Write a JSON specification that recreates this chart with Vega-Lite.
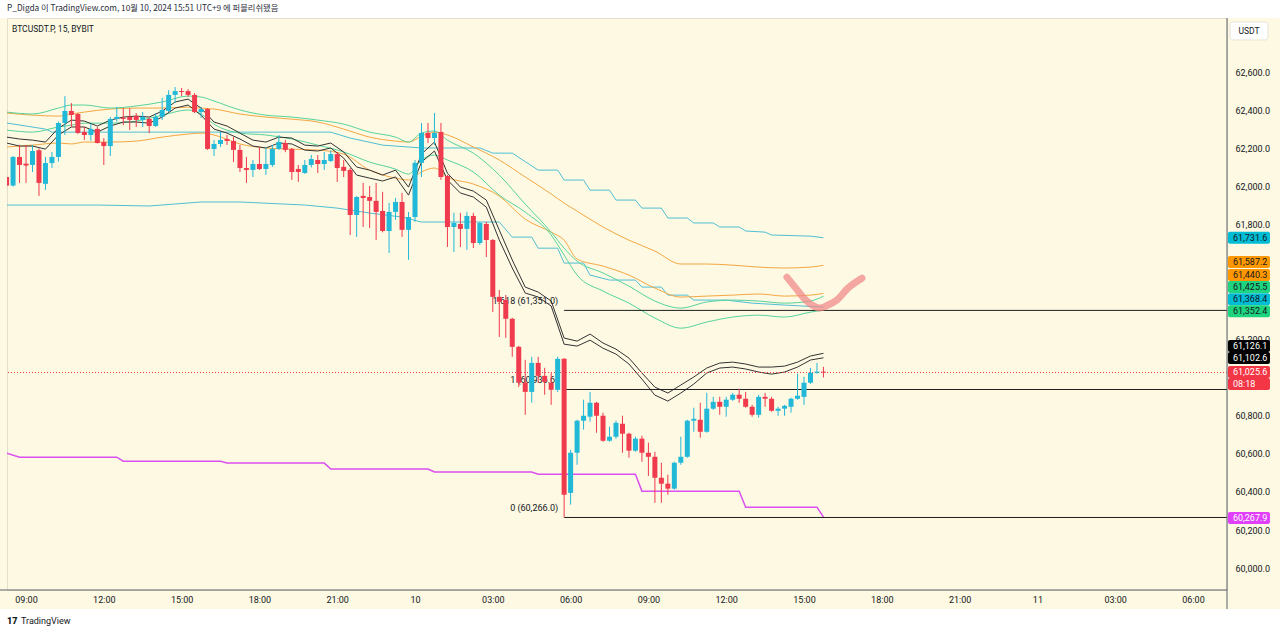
{
  "$schema": "https://vega.github.io/schema/vega-lite/v6.json",
  "width": 1220,
  "height": 572,
  "autosize": {"type": "none"},
  "padding": {"left": 7, "top": 18, "right": 53, "bottom": 44},
  "background": "#fdf9e3",
  "config": {
    "view": {"stroke": "#e4e0cc", "strokeWidth": 1},
    "font": "Roboto",
    "axis": {"title": null, "grid": false, "ticks": false, "domain": false, "labelOverlap": false, "labelFlush": false, "labelFontSize": 9, "labelColor": "#131722"}
  },
  "datasets": {
    "candles": [
      {"t":"2024-10-09T08:15","o":62050,"h":62060,"l":61990,"c":62005},
      {"t":"2024-10-09T08:30","o":62005,"h":62160,"l":62000,"c":62155},
      {"t":"2024-10-09T08:45","o":62155,"h":62218,"l":62019,"c":62113},
      {"t":"2024-10-09T09:00","o":62120,"h":62218,"l":62019,"c":62110},
      {"t":"2024-10-09T09:15","o":62113,"h":62218,"l":62076,"c":62186},
      {"t":"2024-10-09T09:30","o":62190,"h":62200,"l":61951,"c":62019},
      {"t":"2024-10-09T09:45","o":62014,"h":62155,"l":61982,"c":62123},
      {"t":"2024-10-09T10:00","o":62123,"h":62181,"l":62097,"c":62155},
      {"t":"2024-10-09T10:15","o":62155,"h":62340,"l":62130,"c":62333},
      {"t":"2024-10-09T10:30","o":62333,"h":62474,"l":62270,"c":62396},
      {"t":"2024-10-09T10:45","o":62396,"h":62437,"l":62312,"c":62375},
      {"t":"2024-10-09T11:00","o":62380,"h":62385,"l":62275,"c":62281},
      {"t":"2024-10-09T11:15","o":62286,"h":62312,"l":62244,"c":62270},
      {"t":"2024-10-09T11:30","o":62270,"h":62330,"l":62240,"c":62302},
      {"t":"2024-10-09T11:45","o":62302,"h":62312,"l":62225,"c":62228},
      {"t":"2024-10-09T12:00","o":62233,"h":62254,"l":62113,"c":62212},
      {"t":"2024-10-09T12:15","o":62212,"h":62365,"l":62160,"c":62354},
      {"t":"2024-10-09T12:30","o":62354,"h":62417,"l":62340,"c":62365},
      {"t":"2024-10-09T12:45","o":62360,"h":62411,"l":62322,"c":62354},
      {"t":"2024-10-09T13:00","o":62365,"h":62411,"l":62296,"c":62349},
      {"t":"2024-10-09T13:15","o":62370,"h":62385,"l":62312,"c":62349},
      {"t":"2024-10-09T13:30","o":62349,"h":62390,"l":62312,"c":62365},
      {"t":"2024-10-09T13:45","o":62354,"h":62365,"l":62280,"c":62317},
      {"t":"2024-10-09T14:00","o":62317,"h":62385,"l":62312,"c":62365},
      {"t":"2024-10-09T14:15","o":62365,"h":62464,"l":62349,"c":62401},
      {"t":"2024-10-09T14:30","o":62396,"h":62505,"l":62390,"c":62480},
      {"t":"2024-10-09T14:45","o":62480,"h":62521,"l":62437,"c":62500},
      {"t":"2024-10-09T15:00","o":62500,"h":62516,"l":62474,"c":62495},
      {"t":"2024-10-09T15:15","o":62500,"h":62510,"l":62470,"c":62480},
      {"t":"2024-10-09T15:30","o":62480,"h":62490,"l":62385,"c":62390},
      {"t":"2024-10-09T15:45","o":62390,"h":62417,"l":62360,"c":62406},
      {"t":"2024-10-09T16:00","o":62406,"h":62411,"l":62192,"c":62197},
      {"t":"2024-10-09T16:15","o":62197,"h":62244,"l":62160,"c":62223},
      {"t":"2024-10-09T16:30","o":62223,"h":62286,"l":62207,"c":62244},
      {"t":"2024-10-09T16:45","o":62249,"h":62270,"l":62218,"c":62239},
      {"t":"2024-10-09T17:00","o":62239,"h":62260,"l":62128,"c":62192},
      {"t":"2024-10-09T17:15","o":62192,"h":62218,"l":62076,"c":62097},
      {"t":"2024-10-09T17:30","o":62097,"h":62155,"l":62019,"c":62087},
      {"t":"2024-10-09T17:45","o":62087,"h":62139,"l":62050,"c":62118},
      {"t":"2024-10-09T18:00","o":62118,"h":62207,"l":62087,"c":62092},
      {"t":"2024-10-09T18:15","o":62092,"h":62207,"l":62061,"c":62118},
      {"t":"2024-10-09T18:30","o":62113,"h":62218,"l":62103,"c":62197},
      {"t":"2024-10-09T18:45","o":62197,"h":62270,"l":62192,"c":62234},
      {"t":"2024-10-09T19:00","o":62228,"h":62244,"l":62180,"c":62192},
      {"t":"2024-10-09T19:15","o":62197,"h":62202,"l":62035,"c":62076},
      {"t":"2024-10-09T19:30","o":62092,"h":62113,"l":62024,"c":62076},
      {"t":"2024-10-09T19:45","o":62071,"h":62139,"l":62066,"c":62113},
      {"t":"2024-10-09T20:00","o":62113,"h":62165,"l":62100,"c":62144},
      {"t":"2024-10-09T20:15","o":62139,"h":62165,"l":62071,"c":62118},
      {"t":"2024-10-09T20:30","o":62118,"h":62181,"l":62087,"c":62139},
      {"t":"2024-10-09T20:45","o":62134,"h":62190,"l":62128,"c":62170},
      {"t":"2024-10-09T21:00","o":62170,"h":62181,"l":62024,"c":62097},
      {"t":"2024-10-09T21:15","o":62103,"h":62139,"l":62050,"c":62082},
      {"t":"2024-10-09T21:30","o":62087,"h":62097,"l":61746,"c":61851},
      {"t":"2024-10-09T21:45","o":61851,"h":61950,"l":61736,"c":61945},
      {"t":"2024-10-09T22:00","o":61951,"h":62019,"l":61788,"c":61940},
      {"t":"2024-10-09T22:15","o":61945,"h":62003,"l":61783,"c":61925},
      {"t":"2024-10-09T22:30","o":61925,"h":62019,"l":61720,"c":61867},
      {"t":"2024-10-09T22:45","o":61872,"h":61972,"l":61760,"c":61767},
      {"t":"2024-10-09T23:00","o":61767,"h":61914,"l":61652,"c":61867},
      {"t":"2024-10-09T23:15","o":61867,"h":61940,"l":61825,"c":61919},
      {"t":"2024-10-09T23:30","o":61919,"h":61966,"l":61736,"c":61773},
      {"t":"2024-10-09T23:45","o":61773,"h":61867,"l":61616,"c":61840},
      {"t":"2024-10-10T00:00","o":61840,"h":62139,"l":61815,"c":62124},
      {"t":"2024-10-10T00:15","o":62124,"h":62333,"l":62050,"c":62281},
      {"t":"2024-10-10T00:30","o":62281,"h":62333,"l":62228,"c":62254},
      {"t":"2024-10-10T00:45","o":62254,"h":62385,"l":62218,"c":62281},
      {"t":"2024-10-10T01:00","o":62286,"h":62333,"l":62035,"c":62050},
      {"t":"2024-10-10T01:15","o":62055,"h":62061,"l":61683,"c":61788},
      {"t":"2024-10-10T01:30","o":61788,"h":61862,"l":61657,"c":61809},
      {"t":"2024-10-10T01:45","o":61804,"h":61862,"l":61683,"c":61778},
      {"t":"2024-10-10T02:00","o":61778,"h":61867,"l":61668,"c":61846},
      {"t":"2024-10-10T02:15","o":61846,"h":61862,"l":61678,"c":61704},
      {"t":"2024-10-10T02:30","o":61704,"h":61815,"l":61694,"c":61809},
      {"t":"2024-10-10T02:45","o":61804,"h":61815,"l":61631,"c":61720},
      {"t":"2024-10-10T03:00","o":61720,"h":61725,"l":61343,"c":61422},
      {"t":"2024-10-10T03:15","o":61422,"h":61458,"l":61212,"c":61396},
      {"t":"2024-10-10T03:30","o":61406,"h":61432,"l":61207,"c":61307},
      {"t":"2024-10-10T03:45","o":61307,"h":61312,"l":61108,"c":61160},
      {"t":"2024-10-10T04:00","o":61160,"h":61165,"l":60950,"c":60972},
      {"t":"2024-10-10T04:15","o":60972,"h":61092,"l":60804,"c":60924},
      {"t":"2024-10-10T04:30","o":60924,"h":61108,"l":60867,"c":61076},
      {"t":"2024-10-10T04:45","o":61076,"h":61108,"l":60972,"c":61008},
      {"t":"2024-10-10T05:00","o":61008,"h":61050,"l":60909,"c":60977},
      {"t":"2024-10-10T05:15","o":60972,"h":61024,"l":60856,"c":60935},
      {"t":"2024-10-10T05:30","o":60935,"h":61108,"l":60924,"c":61097},
      {"t":"2024-10-10T05:45","o":61097,"h":61100,"l":60266,"c":60385},
      {"t":"2024-10-10T06:00","o":60395,"h":60620,"l":60333,"c":60605},
      {"t":"2024-10-10T06:15","o":60605,"h":60778,"l":60542,"c":60773},
      {"t":"2024-10-10T06:30","o":60773,"h":60883,"l":60726,"c":60799},
      {"t":"2024-10-10T06:45","o":60794,"h":60924,"l":60768,"c":60867},
      {"t":"2024-10-10T07:00","o":60867,"h":60872,"l":60710,"c":60799},
      {"t":"2024-10-10T07:15","o":60799,"h":60815,"l":60663,"c":60668},
      {"t":"2024-10-10T07:30","o":60668,"h":60742,"l":60663,"c":60689},
      {"t":"2024-10-10T07:45","o":60689,"h":60773,"l":60679,"c":60762},
      {"t":"2024-10-10T08:00","o":60757,"h":60799,"l":60605,"c":60705},
      {"t":"2024-10-10T08:15","o":60705,"h":60710,"l":60579,"c":60616},
      {"t":"2024-10-10T08:30","o":60616,"h":60689,"l":60610,"c":60679},
      {"t":"2024-10-10T08:45","o":60679,"h":60694,"l":60558,"c":60605},
      {"t":"2024-10-10T09:00","o":60605,"h":60658,"l":60484,"c":60584},
      {"t":"2024-10-10T09:15","o":60584,"h":60610,"l":60343,"c":60474},
      {"t":"2024-10-10T09:30","o":60474,"h":60553,"l":60343,"c":60443},
      {"t":"2024-10-10T09:45","o":60443,"h":60490,"l":60385,"c":60417},
      {"t":"2024-10-10T10:00","o":60417,"h":60558,"l":60411,"c":60553},
      {"t":"2024-10-10T10:15","o":60553,"h":60689,"l":60542,"c":60584},
      {"t":"2024-10-10T10:30","o":60584,"h":60778,"l":60579,"c":60773},
      {"t":"2024-10-10T10:45","o":60773,"h":60841,"l":60715,"c":60783},
      {"t":"2024-10-10T11:00","o":60778,"h":60867,"l":60684,"c":60715},
      {"t":"2024-10-10T11:15","o":60715,"h":60919,"l":60710,"c":60836},
      {"t":"2024-10-10T11:30","o":60836,"h":60898,"l":60830,"c":60872},
      {"t":"2024-10-10T11:45","o":60872,"h":60898,"l":60804,"c":60846},
      {"t":"2024-10-10T12:00","o":60846,"h":60898,"l":60794,"c":60883},
      {"t":"2024-10-10T12:15","o":60883,"h":60919,"l":60877,"c":60909},
      {"t":"2024-10-10T12:30","o":60909,"h":60940,"l":60867,"c":60888},
      {"t":"2024-10-10T12:45","o":60888,"h":60924,"l":60841,"c":60846},
      {"t":"2024-10-10T13:00","o":60846,"h":60856,"l":60794,"c":60804},
      {"t":"2024-10-10T13:15","o":60804,"h":60909,"l":60789,"c":60898},
      {"t":"2024-10-10T13:30","o":60898,"h":60919,"l":60846,"c":60888},
      {"t":"2024-10-10T13:45","o":60888,"h":60898,"l":60820,"c":60825},
      {"t":"2024-10-10T14:00","o":60825,"h":60846,"l":60799,"c":60836},
      {"t":"2024-10-10T14:15","o":60836,"h":60856,"l":60799,"c":60851},
      {"t":"2024-10-10T14:30","o":60846,"h":60893,"l":60815,"c":60888},
      {"t":"2024-10-10T14:45","o":60888,"h":61019,"l":60883,"c":60904},
      {"t":"2024-10-10T15:00","o":60898,"h":61003,"l":60856,"c":60972},
      {"t":"2024-10-10T15:15","o":60972,"h":61050,"l":60966,"c":61024},
      {"t":"2024-10-10T15:30","o":61024,"h":61076,"l":61019,"c":61030},
      {"t":"2024-10-10T15:45","o":61030,"h":61055,"l":61000,"c":61025.6}
    ],
    "black": [
      {"t":"2024-10-09T08:15","b1":62259,"b2":62228},
      {"t":"2024-10-09T08:45","b1":62249,"b2":62212},
      {"t":"2024-10-09T09:15","b1":62243,"b2":62212},
      {"t":"2024-10-09T09:45","b1":62233,"b2":62196},
      {"t":"2024-10-09T10:15","b1":62306,"b2":62270},
      {"t":"2024-10-09T10:45","b1":62348,"b2":62312},
      {"t":"2024-10-09T11:15","b1":62343,"b2":62312},
      {"t":"2024-10-09T11:45","b1":62317,"b2":62285},
      {"t":"2024-10-09T12:15","b1":62348,"b2":62317},
      {"t":"2024-10-09T12:45","b1":62364,"b2":62338},
      {"t":"2024-10-09T13:15","b1":62369,"b2":62338},
      {"t":"2024-10-09T13:45","b1":62364,"b2":62332},
      {"t":"2024-10-09T14:15","b1":62395,"b2":62364},
      {"t":"2024-10-09T14:45","b1":62443,"b2":62411},
      {"t":"2024-10-09T15:15","b1":62458,"b2":62427},
      {"t":"2024-10-09T15:45","b1":62411,"b2":62374},
      {"t":"2024-10-09T16:15","b1":62338,"b2":62301},
      {"t":"2024-10-09T16:45","b1":62317,"b2":62280},
      {"t":"2024-10-09T17:15","b1":62280,"b2":62249},
      {"t":"2024-10-09T17:45","b1":62243,"b2":62212},
      {"t":"2024-10-09T18:15","b1":62233,"b2":62202},
      {"t":"2024-10-09T18:45","b1":62259,"b2":62228},
      {"t":"2024-10-09T19:15","b1":62254,"b2":62223},
      {"t":"2024-10-09T19:45","b1":62217,"b2":62191},
      {"t":"2024-10-09T20:15","b1":62212,"b2":62186},
      {"t":"2024-10-09T20:45","b1":62228,"b2":62202},
      {"t":"2024-10-09T21:15","b1":62181,"b2":62149},
      {"t":"2024-10-09T21:45","b1":62102,"b2":62060},
      {"t":"2024-10-09T22:15","b1":62086,"b2":62044},
      {"t":"2024-10-09T22:45","b1":62060,"b2":62029},
      {"t":"2024-10-09T23:15","b1":62086,"b2":62050},
      {"t":"2024-10-09T23:45","b1":61997,"b2":61955},
      {"t":"2024-10-10T00:15","b1":62170,"b2":62128},
      {"t":"2024-10-10T00:45","b1":62233,"b2":62186},
      {"t":"2024-10-10T01:15","b1":62070,"b2":62034},
      {"t":"2024-10-10T01:45","b1":61997,"b2":61966},
      {"t":"2024-10-10T02:15","b1":61976,"b2":61945},
      {"t":"2024-10-10T02:45","b1":61929,"b2":61892},
      {"t":"2024-10-10T03:15","b1":61772,"b2":61720},
      {"t":"2024-10-10T03:45","b1":61615,"b2":61573},
      {"t":"2024-10-10T04:15","b1":61473,"b2":61442},
      {"t":"2024-10-10T04:45","b1":61447,"b2":61421},
      {"t":"2024-10-10T05:15","b1":61400,"b2":61374},
      {"t":"2024-10-10T05:45","b1":61206,"b2":61174},
      {"t":"2024-10-10T06:15","b1":61190,"b2":61164},
      {"t":"2024-10-10T06:45","b1":61227,"b2":61195},
      {"t":"2024-10-10T07:15","b1":61180,"b2":61153},
      {"t":"2024-10-10T07:45","b1":61148,"b2":61122},
      {"t":"2024-10-10T08:15","b1":61101,"b2":61070},
      {"t":"2024-10-10T08:45","b1":61023,"b2":60991},
      {"t":"2024-10-10T09:15","b1":60949,"b2":60907},
      {"t":"2024-10-10T09:45","b1":60918,"b2":60876},
      {"t":"2024-10-10T10:15","b1":60960,"b2":60918},
      {"t":"2024-10-10T10:45","b1":61002,"b2":60965},
      {"t":"2024-10-10T11:15","b1":61049,"b2":61023},
      {"t":"2024-10-10T11:45","b1":61075,"b2":61049},
      {"t":"2024-10-10T12:15","b1":61080,"b2":61054},
      {"t":"2024-10-10T12:45","b1":61070,"b2":61044},
      {"t":"2024-10-10T13:15","b1":61054,"b2":61028},
      {"t":"2024-10-10T13:45","b1":61054,"b2":61017},
      {"t":"2024-10-10T14:15","b1":61059,"b2":61028},
      {"t":"2024-10-10T14:45","b1":61080,"b2":61054},
      {"t":"2024-10-10T15:15","b1":61112,"b2":61091},
      {"t":"2024-10-10T15:45","b1":61126.1,"b2":61102.6}
    ],
    "ma": [
      {"t":"2024-10-09T08:15","o1":62385,"o2":62207,"g1":62390,"g2":62296},
      {"t":"2024-10-09T09:15","o1":62374,"o2":62217,"g1":62380,"g2":62285},
      {"t":"2024-10-09T10:15","o1":62369,"o2":62228,"g1":62411,"g2":62312},
      {"t":"2024-10-09T10:45","o1":62380,"o2":62223,"g1":62427,"g2":62322},
      {"t":"2024-10-09T11:15","o1":62390,"o2":62233,"g1":62427,"g2":62332},
      {"t":"2024-10-09T12:15","o1":62406,"o2":62233,"g1":62411,"g2":62332},
      {"t":"2024-10-09T13:15","o1":62411,"o2":62238,"g1":62422,"g2":62343},
      {"t":"2024-10-09T14:15","o1":62411,"o2":62259,"g1":62443,"g2":62374},
      {"t":"2024-10-09T15:15","o1":62416,"o2":62275,"g1":62474,"g2":62401},
      {"t":"2024-10-09T15:45","o1":62411,"o2":62280,"g1":62469,"g2":62380},
      {"t":"2024-10-09T16:15","o1":62406,"o2":62270,"g1":62448,"g2":62327},
      {"t":"2024-10-09T17:15","o1":62380,"o2":62223,"g1":62401,"g2":62280},
      {"t":"2024-10-09T18:15","o1":62364,"o2":62202,"g1":62374,"g2":62270},
      {"t":"2024-10-09T19:15","o1":62353,"o2":62196,"g1":62364,"g2":62249},
      {"t":"2024-10-09T20:15","o1":62338,"o2":62191,"g1":62348,"g2":62217},
      {"t":"2024-10-09T21:15","o1":62301,"o2":62170,"g1":62327,"g2":62181},
      {"t":"2024-10-09T22:15","o1":62259,"o2":62086,"g1":62285,"g2":62128},
      {"t":"2024-10-09T23:15","o1":62238,"o2":62044,"g1":62259,"g2":62091},
      {"t":"2024-10-09T23:45","o1":62233,"o2":62034,"g1":62233,"g2":62065},
      {"t":"2024-10-10T00:15","o1":62264,"o2":62076,"g1":62280,"g2":62139},
      {"t":"2024-10-10T00:45","o1":62285,"o2":62097,"g1":62291,"g2":62165},
      {"t":"2024-10-10T01:15","o1":62270,"o2":62050,"g1":62243,"g2":62139},
      {"t":"2024-10-10T02:15","o1":62207,"o2":62013,"g1":62175,"g2":62076},
      {"t":"2024-10-10T03:15","o1":62139,"o2":61950,"g1":62060,"g2":61955},
      {"t":"2024-10-10T04:15","o1":62050,"o2":61829,"g1":61908,"g2":61866},
      {"t":"2024-10-10T05:15","o1":61961,"o2":61761,"g1":61761,"g2":61746},
      {"t":"2024-10-10T05:45","o1":61913,"o2":61719,"g1":61677,"g2":61641},
      {"t":"2024-10-10T06:15","o1":61871,"o2":61620,"g1":61609,"g2":61536},
      {"t":"2024-10-10T07:15","o1":61788,"o2":61583,"g1":61547,"g2":61452},
      {"t":"2024-10-10T08:15","o1":61719,"o2":61536,"g1":61478,"g2":61389},
      {"t":"2024-10-10T09:15","o1":61662,"o2":61468,"g1":61400,"g2":61311},
      {"t":"2024-10-10T10:15","o1":61594,"o2":61421,"g1":61363,"g2":61258},
      {"t":"2024-10-10T11:15","o1":61594,"o2":61426,"g1":61395,"g2":61290},
      {"t":"2024-10-10T12:15","o1":61588,"o2":61431,"g1":61405,"g2":61316},
      {"t":"2024-10-10T13:15","o1":61578,"o2":61437,"g1":61400,"g2":61326},
      {"t":"2024-10-10T14:15","o1":61573,"o2":61426,"g1":61389,"g2":61316},
      {"t":"2024-10-10T15:15","o1":61578,"o2":61431,"g1":61400,"g2":61342},
      {"t":"2024-10-10T15:45","o1":61587.2,"o2":61440.3,"g1":61425.5,"g2":61352.4}
    ],
    "c1": [
      {"t":"2024-10-09T08:15","v":62333},{"t":"2024-10-09T09:45","v":62301},{"t":"2024-10-09T10:00","v":62285},
      {"t":"2024-10-09T20:45","v":62285},{"t":"2024-10-09T21:30","v":62254},{"t":"2024-10-09T22:45","v":62217},
      {"t":"2024-10-10T00:15","v":62202},{"t":"2024-10-10T02:30","v":62202},{"t":"2024-10-10T03:00","v":62175},
      {"t":"2024-10-10T03:45","v":62175},{"t":"2024-10-10T04:45","v":62086},{"t":"2024-10-10T05:30","v":62086},
      {"t":"2024-10-10T05:45","v":62034},{"t":"2024-10-10T06:30","v":62034},{"t":"2024-10-10T06:45","v":61981},
      {"t":"2024-10-10T07:30","v":61981},{"t":"2024-10-10T07:45","v":61929},{"t":"2024-10-10T08:30","v":61929},
      {"t":"2024-10-10T08:45","v":61887},{"t":"2024-10-10T09:30","v":61887},{"t":"2024-10-10T09:45","v":61835},
      {"t":"2024-10-10T10:30","v":61835},{"t":"2024-10-10T10:45","v":61809},{"t":"2024-10-10T11:30","v":61809},
      {"t":"2024-10-10T11:45","v":61788},{"t":"2024-10-10T12:30","v":61788},{"t":"2024-10-10T12:45","v":61767},
      {"t":"2024-10-10T13:30","v":61761},{"t":"2024-10-10T13:45","v":61746},{"t":"2024-10-10T15:15","v":61740},
      {"t":"2024-10-10T15:45","v":61731.6}
    ],
    "c2": [
      {"t":"2024-10-09T08:15","v":61903},{"t":"2024-10-09T11:45","v":61903},{"t":"2024-10-09T13:45","v":61898},
      {"t":"2024-10-09T15:45","v":61919},{"t":"2024-10-09T17:15","v":61919},{"t":"2024-10-09T19:45","v":61903},
      {"t":"2024-10-09T21:00","v":61887},{"t":"2024-10-09T22:15","v":61861},{"t":"2024-10-09T23:30","v":61840},
      {"t":"2024-10-10T00:15","v":61814},{"t":"2024-10-10T03:15","v":61814},{"t":"2024-10-10T03:45","v":61735},
      {"t":"2024-10-10T04:30","v":61735},{"t":"2024-10-10T04:45","v":61677},{"t":"2024-10-10T05:30","v":61677},
      {"t":"2024-10-10T05:45","v":61599},{"t":"2024-10-10T06:30","v":61599},{"t":"2024-10-10T06:45","v":61536},
      {"t":"2024-10-10T07:30","v":61510},{"t":"2024-10-10T08:30","v":61510},{"t":"2024-10-10T08:45","v":61473},
      {"t":"2024-10-10T09:30","v":61473},{"t":"2024-10-10T09:45","v":61431},{"t":"2024-10-10T10:30","v":61431},
      {"t":"2024-10-10T10:45","v":61405},{"t":"2024-10-10T12:00","v":61405},{"t":"2024-10-10T13:00","v":61389},
      {"t":"2024-10-10T14:15","v":61379},{"t":"2024-10-10T15:45","v":61368.4}
    ],
    "mg": [
      {"t":"2024-10-09T08:15","v":60603},{"t":"2024-10-09T08:45","v":60582},{"t":"2024-10-09T12:30","v":60582},
      {"t":"2024-10-09T12:45","v":60561},{"t":"2024-10-09T16:30","v":60561},{"t":"2024-10-09T16:45","v":60551},
      {"t":"2024-10-09T20:30","v":60551},{"t":"2024-10-09T20:45","v":60520},{"t":"2024-10-10T00:30","v":60520},
      {"t":"2024-10-10T00:45","v":60504},{"t":"2024-10-10T04:30","v":60504},{"t":"2024-10-10T04:45","v":60493},
      {"t":"2024-10-10T08:30","v":60493},{"t":"2024-10-10T08:45","v":60404},{"t":"2024-10-10T12:30","v":60404},
      {"t":"2024-10-10T12:45","v":60320},{"t":"2024-10-10T15:30","v":60320},{"t":"2024-10-10T15:45","v":60267.9}
    ],
    "pink": [
      {"t":"2024-10-10T14:20:30","v":61525},{"t":"2024-10-10T14:39:00","v":61473},{"t":"2024-10-10T14:57:36","v":61421},
      {"t":"2024-10-10T15:18:27","v":61379},{"t":"2024-10-10T15:36:54","v":61363},{"t":"2024-10-10T15:55:30","v":61379},
      {"t":"2024-10-10T16:16:12","v":61405},{"t":"2024-10-10T16:41:42","v":61468},{"t":"2024-10-10T17:14:06","v":61520}
    ],
    "levels": [
      {"lv":"1.618 (61,351.0)","v":61351.0},
      {"lv":"1 (60,936.6)","v":60936.6},
      {"lv":"0 (60,266.0)","v":60266.0}
    ],
    "tags": [
      {"label":"61,731.6","at":61731.6,"k":"cyan"},
      {"label":"61,587.2","at":61604,"k":"orange"},
      {"label":"61,440.3","at":61536,"k":"orange"},
      {"label":"61,425.5","at":61473,"k":"green"},
      {"label":"61,368.4","at":61410,"k":"cyan"},
      {"label":"61,352.4","at":61347,"k":"green"},
      {"label":"61,126.1","at":61164,"k":"black"},
      {"label":"61,102.6","at":61101,"k":"black"},
      {"label":"61,025.6","at":61028,"k":"red"},
      {"label":"08:18","at":60965,"k":"red"},
      {"label":"60,267.9","at":60263,"k":"magenta"}
    ],
    "notes": [
      {"txt":"P_Digda 이 TradingView.com, 10월 10, 2024 15:51 UTC+9 에 퍼블리쉬됐음"}
    ]
  },
  "layer": [
    {
      "data": {"name": "mg"},
      "mark": {"type": "line", "color": "#dc4ff0", "strokeWidth": 1.5, "clip": true},
      "encoding": {
        "x": {
          "field": "t", "type": "temporal",
          "scale": {"domain": [{"year":2024,"month":10,"date":9,"hours":8,"minutes":16}, {"year":2024,"month":10,"date":11,"hours":7,"minutes":18,"seconds":40}], "nice": false, "padding": 0},
          "axis": {
            "title": null, "labelPadding": 5,
            "values": [
              {"year":2024,"month":10,"date":9,"hours":9},{"year":2024,"month":10,"date":9,"hours":12},
              {"year":2024,"month":10,"date":9,"hours":15},{"year":2024,"month":10,"date":9,"hours":18},
              {"year":2024,"month":10,"date":9,"hours":21},{"year":2024,"month":10,"date":10,"hours":0},
              {"year":2024,"month":10,"date":10,"hours":3},{"year":2024,"month":10,"date":10,"hours":6},
              {"year":2024,"month":10,"date":10,"hours":9},{"year":2024,"month":10,"date":10,"hours":12},
              {"year":2024,"month":10,"date":10,"hours":15},{"year":2024,"month":10,"date":10,"hours":18},
              {"year":2024,"month":10,"date":10,"hours":21},{"year":2024,"month":10,"date":11,"hours":0},
              {"year":2024,"month":10,"date":11,"hours":3},{"year":2024,"month":10,"date":11,"hours":6}
            ],
            "labelExpr": "hours(datum.value) == 0 ? timeFormat(datum.value, '%-d') : timeFormat(datum.value, '%H:%M')"
          }
        },
        "y": {
          "field": "v", "type": "quantitative",
          "scale": {"domain": [59886, 62883], "nice": false, "zero": false, "padding": 0},
          "axis": {
            "orient": "right", "title": null,
            "values": [60000, 60200, 60400, 60600, 60800, 61200, 61800, 62000, 62200, 62400, 62600],
            "format": ",.1f", "labelAlign": "left", "labelPadding": 8
          }
        }
      }
    },
    {
      "data": {"values": [{}]},
      "mark": {"type": "rect", "color": "white", "clip": false},
      "encoding": {
        "x": {"datum": {"year":2024,"month":10,"date":9,"hours":6}, "type": "temporal"},
        "x2": {"datum": {"year":2024,"month":10,"date":11,"hours":10}},
        "y": {"datum": 62883, "type": "quantitative"},
        "y2": {"datum": 63300}
      }
    },
    {
      "data": {"values": [{}]},
      "mark": {"type": "rect", "color": "white", "clip": false},
      "encoding": {
        "x": {"datum": {"year":2024,"month":10,"date":9,"hours":6}, "type": "temporal"},
        "x2": {"datum": {"year":2024,"month":10,"date":11,"hours":10}},
        "y": {"datum": 59786, "type": "quantitative"},
        "y2": {"datum": 59300}
      }
    },
    {
      "data": {"name": "notes"},
      "mark": {"type": "text", "align": "left", "baseline": "middle", "fontSize": 8.3, "font": "Noto Sans CJK KR", "color": "#2a2e39", "clip": false},
      "encoding": {
        "x": {"datum": {"year":2024,"month":10,"date":9,"hours":8,"minutes":16}, "type": "temporal"},
        "y": {"datum": 62930, "type": "quantitative"},
        "text": {"field": "txt"}
      }
    },
    {
      "data": {"values": [{"txt": "17"}]},
      "mark": {"type": "text", "align": "left", "baseline": "middle", "fontSize": 9, "fontWeight": 900, "color": "#131722", "clip": false},
      "encoding": {
        "x": {"datum": {"year":2024,"month":10,"date":9,"hours":8,"minutes":16}, "type": "temporal"},
        "y": {"datum": 59723, "type": "quantitative"},
        "text": {"field": "txt"}
      }
    },
    {
      "data": {"values": [{"txt": "TradingView"}]},
      "mark": {"type": "text", "align": "left", "baseline": "middle", "fontSize": 9, "color": "#131722", "clip": false},
      "encoding": {
        "x": {"datum": {"year":2024,"month":10,"date":9,"hours":8,"minutes":48,"seconds":20}, "type": "temporal"},
        "y": {"datum": 59723, "type": "quantitative"},
        "text": {"field": "txt"}
      }
    },
    {
      "data": {"values": [{"txt": "BTCUSDT.P, 15, BYBIT"}]},
      "mark": {"type": "text", "align": "left", "baseline": "middle", "fontSize": 8.5, "color": "#131722", "clip": false},
      "encoding": {
        "x": {"datum": {"year":2024,"month":10,"date":9,"hours":8,"minutes":27,"seconds":30}, "type": "temporal"},
        "y": {"datum": 62825, "type": "quantitative"},
        "text": {"field": "txt"}
      }
    },
    {
      "data": {"name": "c2"},
      "mark": {"type": "line", "color": "#4fbfd4", "strokeWidth": 1, "clip": true},
      "encoding": {"x": {"field": "t", "type": "temporal"}, "y": {"field": "v", "type": "quantitative"}}
    },
    {
      "data": {"name": "c1"},
      "mark": {"type": "line", "color": "#4fbfd4", "strokeWidth": 1, "clip": true},
      "encoding": {"x": {"field": "t", "type": "temporal"}, "y": {"field": "v", "type": "quantitative"}}
    },
    {
      "data": {"name": "ma"},
      "mark": {"type": "line", "color": "#f4a742", "strokeWidth": 1, "clip": true, "interpolate": "monotone"},
      "encoding": {"x": {"field": "t", "type": "temporal"}, "y": {"field": "o1", "type": "quantitative"}}
    },
    {
      "data": {"name": "ma"},
      "mark": {"type": "line", "color": "#f4a742", "strokeWidth": 1, "clip": true, "interpolate": "monotone"},
      "encoding": {"x": {"field": "t", "type": "temporal"}, "y": {"field": "o2", "type": "quantitative"}}
    },
    {
      "data": {"name": "ma"},
      "mark": {"type": "line", "color": "#56d39c", "strokeWidth": 1, "clip": true, "interpolate": "monotone"},
      "encoding": {"x": {"field": "t", "type": "temporal"}, "y": {"field": "g1", "type": "quantitative"}}
    },
    {
      "data": {"name": "ma"},
      "mark": {"type": "line", "color": "#56d39c", "strokeWidth": 1, "clip": true, "interpolate": "monotone"},
      "encoding": {"x": {"field": "t", "type": "temporal"}, "y": {"field": "g2", "type": "quantitative"}}
    },
    {
      "data": {"name": "black"},
      "mark": {"type": "line", "color": "#333333", "strokeWidth": 1, "clip": true},
      "encoding": {"x": {"field": "t", "type": "temporal"}, "y": {"field": "b1", "type": "quantitative"}}
    },
    {
      "data": {"name": "black"},
      "mark": {"type": "line", "color": "#333333", "strokeWidth": 1, "clip": true},
      "encoding": {"x": {"field": "t", "type": "temporal"}, "y": {"field": "b2", "type": "quantitative"}}
    },
    {
      "data": {"name": "levels"},
      "mark": {"type": "rule", "color": "#1e1e1e", "strokeWidth": 1, "clip": true},
      "encoding": {
        "x": {"datum": {"year":2024,"month":10,"date":10,"hours":5,"minutes":45}, "type": "temporal"},
        "x2": {"datum": {"year":2024,"month":10,"date":11,"hours":7,"minutes":18,"seconds":40}},
        "y": {"field": "v", "type": "quantitative"}
      }
    },
    {
      "data": {"name": "levels"},
      "mark": {"type": "text", "align": "right", "baseline": "middle", "dx": -6, "dy": -9, "fontSize": 9, "color": "#131722"},
      "encoding": {
        "x": {"datum": {"year":2024,"month":10,"date":10,"hours":5,"minutes":45}, "type": "temporal"},
        "y": {"field": "v", "type": "quantitative"},
        "text": {"field": "lv"}
      }
    },
    {
      "data": {"values": [{}]},
      "mark": {"type": "rule", "color": "#f23645", "strokeDash": [1, 2], "strokeWidth": 1},
      "encoding": {"y": {"datum": 61025.6, "type": "quantitative"}}
    },
    {
      "data": {"name": "candles"},
      "mark": {"type": "rule", "strokeWidth": 1, "clip": true},
      "encoding": {
        "x": {"field": "t", "type": "temporal"},
        "y": {"field": "l", "type": "quantitative"},
        "y2": {"field": "h"},
        "color": {"condition": {"test": "datum.c >= datum.o", "value": "#22b8d8"}, "value": "#f03a4d"}
      }
    },
    {
      "data": {"name": "candles"},
      "mark": {"type": "bar", "size": 5, "clip": true},
      "encoding": {
        "x": {"field": "t", "type": "temporal"},
        "y": {"field": "o", "type": "quantitative"},
        "y2": {"field": "c"},
        "color": {"condition": {"test": "datum.c >= datum.o", "value": "#22b8d8"}, "value": "#f03a4d"}
      }
    },
    {
      "data": {"name": "pink"},
      "mark": {"type": "line", "color": "#f08a8a", "opacity": 0.75, "strokeWidth": 7, "strokeCap": "round", "strokeJoin": "round", "interpolate": "monotone", "clip": true},
      "encoding": {"x": {"field": "t", "type": "temporal"}, "y": {"field": "v", "type": "quantitative"}}
    },
    {
      "data": {"values": [{}]},
      "mark": {"type": "rule", "color": "#5d606b", "strokeWidth": 1, "clip": false},
      "encoding": {
        "x": {"datum": {"year":2024,"month":10,"date":9,"hours":6}, "type": "temporal"},
        "x2": {"datum": {"year":2024,"month":10,"date":11,"hours":7,"minutes":18,"seconds":40}},
        "y": {"datum": 59886, "type": "quantitative"}
      }
    },
    {
      "data": {"values": [{}]},
      "mark": {"type": "rule", "color": "#5d606b", "strokeWidth": 1, "clip": false},
      "encoding": {
        "x": {"datum": {"year":2024,"month":10,"date":11,"hours":7,"minutes":18,"seconds":40}, "type": "temporal"},
        "y": {"datum": 59786, "type": "quantitative"},
        "y2": {"datum": 62883}
      }
    },
    {
      "data": {"name": "tags"},
      "mark": {"type": "tick", "orient": "horizontal", "size": 42, "thickness": 12, "cornerRadius": 2, "opacity": 1, "clip": false},
      "encoding": {
        "x": {"datum": {"year":2024,"month":10,"date":11,"hours":8,"minutes":9,"seconds":30}, "type": "temporal"},
        "y": {"field": "at", "type": "quantitative"},
        "color": {"field": "k", "type": "nominal", "legend": null,
          "scale": {"domain": ["cyan", "orange", "green", "black", "red", "magenta"], "range": ["#00bcd4", "#ff9800", "#1ed47f", "#000000", "#f23645", "#e040fb"]}}
      }
    },
    {
      "data": {"name": "tags"},
      "mark": {"type": "text", "align": "left", "baseline": "middle", "fontSize": 9, "dx": 1, "clip": false},
      "encoding": {
        "x": {"datum": {"year":2024,"month":10,"date":11,"hours":7,"minutes":30}, "type": "temporal"},
        "y": {"field": "at", "type": "quantitative"},
        "text": {"field": "label"},
        "color": {"condition": {"test": "indexof(['black','red','magenta'], datum.k) >= 0", "value": "#ffffff"}, "value": "#131722"}
      }
    },
    {
      "data": {"values": [{"txt": "USDT"}]},
      "mark": {"type": "tick", "orient": "horizontal", "size": 38, "thickness": 18, "cornerRadius": 3, "color": "#ffffff", "opacity": 1, "stroke": "#e6e3d6", "clip": false},
      "encoding": {
        "x": {"datum": {"year":2024,"month":10,"date":11,"hours":8,"minutes":9,"seconds":30}, "type": "temporal"},
        "y": {"datum": 62815, "type": "quantitative"}
      }
    },
    {
      "data": {"values": [{"txt": "USDT"}]},
      "mark": {"type": "text", "align": "center", "baseline": "middle", "fontSize": 8.5, "color": "#131722", "clip": false},
      "encoding": {
        "x": {"datum": {"year":2024,"month":10,"date":11,"hours":8,"minutes":9,"seconds":30}, "type": "temporal"},
        "y": {"datum": 62815, "type": "quantitative"},
        "text": {"field": "txt"}
      }
    }
  ]
}
